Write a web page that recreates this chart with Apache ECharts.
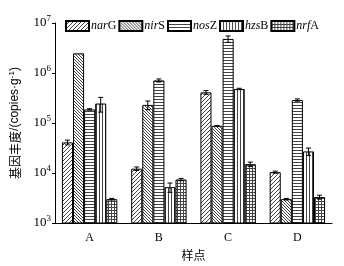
<!DOCTYPE html>
<html><head><meta charset="utf-8">
<script src="https://cdn.jsdelivr.net/npm/echarts@6/dist/echarts.min.js"></script>
<style>html,body{margin:0;padding:0;background:#fff}#c{width:344px;height:266px}</style>
</head><body><div id="c"></div>
<script>
var categories = ['A', 'B', 'C', 'D'];
var seriesNames = ['narG', 'nirS', 'nosZ', 'hzsB', 'nrfA'];
var narG = [4.1e4, 1.22e4, 4.1e5, 1.04e4];
var nirS = [2.47e6, 2.3e5, 8.8e4, 3.0e3];
var nosZ = [1.87e5, 7.1e5, 4.8e6, 2.88e5];
var hzsB = [2.45e5, 5.2e3, 4.8e5, 2.7e4];
var nrfA = [3.0e3, 7.4e3, 1.5e4, 3.3e3];
var narGErr = [0.45e4, 0.1e4, 0.35e5, 0.05e4];
var nirSErr = [0, 0.45e5, 0.15e4, 0.1e3];
var nosZErr = [0.06e5, 0.5e5, 0.7e6, 0.15e5];
var hzsBErr = [0.8e5, 1.1e3, 0.15e5, 0.45e4];
var nrfAErr = [0.1e3, 0.4e3, 0.15e4, 0.3e3];
var legendItalic = ['nar', 'nir', 'nos', 'hzs', 'nrf'];
var legendPlain = ['G', 'S', 'Z', 'B', 'A'];

var values = [narG, nirS, nosZ, hzsB, nrfA];
var errs = [narGErr, nirSErr, nosZErr, hzsBErr, nrfAErr];

function makePattern(kind) {
  var s = kind === 'fwd' ? 4 : 3;
  var c = document.createElement('canvas');
  c.width = s; c.height = s;
  var g = c.getContext('2d');
  g.fillStyle = '#fff'; g.fillRect(0, 0, s, s);
  g.fillStyle = '#444';
  if (kind === 'fwd') {
    for (var i = 0; i < s; i++) g.fillRect(s - 1 - i, i, 1, 1);
  } else if (kind === 'back') {
    for (var i = 0; i < s; i++) g.fillRect(i, i, 1, 1);
  } else if (kind === 'h') {
    g.fillRect(0, 0, s, 1);
  } else if (kind === 'v') {
    g.fillRect(0, 0, 1, s);
  } else if (kind === 'grid') {
    g.fillRect(0, 0, s, 1); g.fillRect(0, 0, 1, s);
  }
  return c;
}
var patterns = ['fwd', 'back', 'h', 'v', 'grid'];

var chart = echarts.init(document.getElementById('c'), null, {renderer: 'canvas'});
var FONT = '"Liberation Serif", "Times New Roman", serif';
var SANS = '"Liberation Sans", Arial, sans-serif';
var CJK = '"Noto Sans CJK SC", sans-serif';

var series = [];
seriesNames.forEach(function (name, i) {
  series.push({
    name: name,
    type: 'bar',
    data: values[i],
    barGap: 0,
    barCategoryGap: '20%',
    itemStyle: {
      color: {image: makePattern(patterns[i]), repeat: 'repeat'},
      borderColor: '#000',
      borderWidth: 1
    }
  });
});
var errData = [];
seriesNames.forEach(function (name, i) {
  values[i].forEach(function (v, j) {
    if (errs[i][j] > 0) errData.push([j, v, errs[i][j], i]);
  });
});
series.push({
  type: 'custom',
  z: 10,
  data: errData,
  renderItem: function (params, api) {
    var cat = api.value(0), v = api.value(1), e = api.value(2), si = api.value(3);
    var band = api.coord([1, v])[0] - api.coord([0, v])[0];
    var group = band * 0.8;
    var bw = group / 5;
    var x = api.coord([cat, v])[0] - group / 2 + bw * (si + 0.5);
    var yTop = api.coord([cat, v + e])[1];
    var yBot = api.coord([cat, Math.max(v - e, 1)])[1];
    var cap = 2.5;
    var st = {stroke: '#000', lineWidth: 1};
    return {type: 'group', children: [
      {type: 'line', shape: {x1: x, y1: yTop, x2: x, y2: yBot}, style: st},
      {type: 'line', shape: {x1: x - cap, y1: yTop, x2: x + cap, y2: yTop}, style: st},
      {type: 'line', shape: {x1: x - cap, y1: yBot, x2: x + cap, y2: yBot}, style: st}
    ]};
  }
});

chart.setOption({
  animation: false,
  backgroundColor: '#fff',
  grid: {left: 53, right: 12, top: 23, bottom: 37},
  legend: {
    top: 15,
    left: 60,
    icon: 'rect',
    itemWidth: 23,
    itemHeight: 10,
    itemGap: 2,
    data: seriesNames,
    formatter: function (n) {
      var k = seriesNames.indexOf(n);
      return '{i|' + legendItalic[k] + '}{n|' + legendPlain[k] + '}';
    },
    textStyle: {
      fontFamily: FONT, fontSize: 12, color: '#000', padding: [0, 0, 0, -3],
      rich: {
        i: {fontFamily: FONT, fontStyle: 'italic', fontSize: 12, color: '#000'},
        n: {fontFamily: FONT, fontSize: 12, color: '#000'}
      }
    }
  },
  xAxis: {
    type: 'category',
    data: categories,
    name: '样点',
    nameLocation: 'middle',
    nameGap: 26,
    nameTextStyle: {fontFamily: CJK, fontSize: 12, color: '#000'},
    axisLine: {lineStyle: {color: '#000', width: 1}},
    axisTick: {show: false},
    axisLabel: {fontFamily: FONT, fontSize: 12, color: '#000', margin: 9}
  },
  yAxis: {
    type: 'log',
    logBase: 10,
    min: 1000,
    max: 1e7,
    name: '{c|基因丰度}/(copies·g{s|-1})',
    nameLocation: 'middle',
    nameRotate: 90,
    nameGap: 33,
    nameTextStyle: {
      fontFamily: SANS, fontSize: 12, color: '#000',
      rich: {
        c: {fontFamily: CJK, fontSize: 12, color: '#000'},
        s: {fontFamily: SANS, fontSize: 8, color: '#000', padding: [0, 0, 6, 0]}
      }
    },
    splitLine: {show: false},
    axisLine: {show: true, lineStyle: {color: '#000', width: 1}},
    axisTick: {show: true, inside: false, length: 3, lineStyle: {color: '#000'}},
    minorTick: {show: false},
    axisLabel: {
      margin: 4,
      formatter: function (v) { return '10{s|' + Math.round(Math.log10(v)) + '}'; },
      fontFamily: FONT, fontSize: 13, color: '#000',
      rich: {s: {fontFamily: FONT, fontSize: 9, color: '#000', padding: [0, 0, 8, 0]}}
    }
  },
  series: series
});
</script>
</body></html>
